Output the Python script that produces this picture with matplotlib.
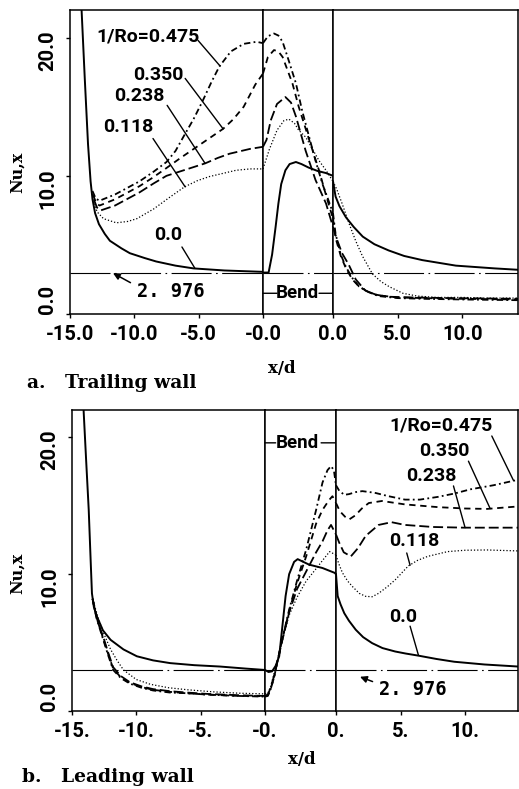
import matplotlib
matplotlib.use("Agg")
import matplotlib.pyplot as plt

# Nu,x along a rotating U-duct.
# straight legs are in x/d, the bend is in fraction of the bend (0 = inlet, 1 = outlet)
ro_labels = ["0.0", "0.118", "0.238", "0.350", "0.475"]
nu_ref = 2.976

# ---- a. trailing wall ----
# upstream leg
tu_x_0 = [-14.1, -13.85, -13.6, -13.4, -13.25, -13.05, -12.75, -12.3, -11.9, -11.0, -10.35, -9.2, -8.3, -6.8, -5.4, -3.0, 0.0]
tu_y_0 = [22.0, 17.0, 12.3, 9.6, 8.3, 7.3, 6.5, 5.8, 5.3, 4.75, 4.4, 4.05, 3.8, 3.5, 3.3, 3.15, 3.05]
tu_x_118 = [-13.1, -12.9, -12.4, -11.4, -10.5, -9.8, -8.5, -7.25, -6.1, -5.1, -4.15, -3.0, -2.1, -1.0, 0.0]
tu_y_118 = [8.0, 7.4, 6.9, 6.6, 6.7, 6.9, 7.6, 8.45, 9.2, 9.65, 9.95, 10.2, 10.4, 10.5, 10.5]
tu_x_238 = [-13.15, -12.9, -12.6, -11.5, -10.5, -9.6, -8.5, -7.5, -6.0, -4.5, -3.5, -2.6, -1.0, 0.0]
tu_y_238 = [8.3, 7.7, 7.5, 7.85, 8.35, 8.8, 9.45, 10.0, 10.45, 10.9, 11.3, 11.6, 11.95, 12.1]
tu_x_350 = [-13.2, -12.95, -12.7, -11.5, -10.5, -9.6, -8.6, -7.6, -6.4, -5.3, -4.2, -3.1, -2.3, -1.5, -0.6, 0.0]
tu_y_350 = [8.6, 8.0, 7.85, 8.3, 8.8, 9.25, 9.85, 10.5, 11.3, 12.0, 12.7, 13.4, 14.1, 15.0, 16.6, 17.4]
tu_x_475 = [-13.25, -13.0, -12.7, -11.5, -10.5, -9.6, -8.5, -7.5, -6.8, -6.2, -5.4, -4.7, -4.0, -3.4, -2.5, -1.5, -0.5, 0.0]
tu_y_475 = [8.9, 8.35, 8.2, 8.65, 9.15, 9.6, 10.3, 11.0, 11.8, 12.8, 14.1, 15.4, 16.8, 17.9, 19.0, 19.55, 19.7, 19.6]
# bend
tb_x_0 = [0, 0.08, 0.13, 0.18, 0.22, 0.26, 0.32, 0.38, 0.47, 0.55, 0.65, 0.78, 0.9, 1.0]
tb_y_0 = [3.0, 3.0, 4.3, 6.3, 8.0, 9.4, 10.4, 10.85, 11.0, 10.85, 10.6, 10.35, 10.2, 10.0]
tb_x_118 = [0, 0.09, 0.2, 0.3, 0.37, 0.45, 0.51, 0.61, 0.7, 0.8, 0.9, 1.0]
tb_y_118 = [10.5, 11.9, 13.3, 14.0, 14.1, 13.8, 13.3, 12.8, 12.0, 11.1, 10.4, 9.6]
tb_x_238 = [0, 0.05, 0.11, 0.2, 0.32, 0.4, 0.47, 0.61, 0.75, 0.9, 1.0]
tb_y_238 = [12.1, 12.6, 14.0, 15.2, 15.7, 15.3, 14.3, 11.8, 9.7, 8.0, 6.3]
tb_x_350 = [0, 0.07, 0.157, 0.22, 0.28, 0.42, 0.51, 0.66, 0.8, 0.9, 1.0]
tb_y_350 = [17.4, 18.6, 19.1, 19.0, 18.6, 16.7, 15.0, 12.6, 10.4, 8.6, 6.9]
tb_x_475 = [0, 0.07, 0.157, 0.22, 0.28, 0.37, 0.47, 0.56, 0.66, 0.75, 0.85, 0.93, 1.0]
tb_y_475 = [19.6, 20.1, 20.3, 20.15, 19.7, 18.3, 16.7, 14.7, 12.8, 11.1, 9.4, 8.3, 7.3]
# downstream leg
td_x_0 = [0, 0.2, 0.5, 1.0, 1.6, 2.3, 3.2, 4.3, 5.5, 6.9, 8.2, 9.5, 11.0, 12.5, 14.3]
td_y_0 = [9.6, 8.5, 7.8, 7.0, 6.3, 5.6, 5.05, 4.6, 4.2, 3.9, 3.7, 3.5, 3.4, 3.3, 3.2]
td_x_118 = [0, 0.3, 0.7, 1.24, 1.75, 2.27, 3.05, 3.7, 4.34, 5.4, 6.5, 8.0, 10.0, 12.0, 14.3]
td_y_118 = [9.6, 9.0, 8.0, 6.55, 5.3, 4.2, 2.9, 2.35, 1.98, 1.5, 1.3, 1.2, 1.2, 1.15, 1.15]
td_x_238 = [0, 0.3, 0.7, 1.2, 1.76, 2.5, 3.3, 4.3, 6.0, 9.0, 14.3]
td_y_238 = [6.3, 5.4, 4.4, 3.6, 2.5, 1.7, 1.4, 1.25, 1.2, 1.15, 1.1]
td_x_350 = [0, 0.2, 0.6, 1.0, 1.5, 2.0, 2.7, 3.5, 5.0, 7.0, 10.0, 14.3]
td_y_350 = [6.9, 5.5, 4.2, 3.3, 2.5, 2.0, 1.6, 1.35, 1.2, 1.15, 1.1, 1.05]
td_x_475 = [0, 0.2, 0.6, 1.0, 1.5, 2.0, 2.7, 3.5, 5.0, 7.0, 10.0, 14.3]
td_y_475 = [7.3, 5.8, 4.3, 3.4, 2.6, 2.0, 1.6, 1.3, 1.15, 1.1, 1.05, 1.0]

# ---- b. leading wall ----
lu_x_0 = [-14.1, -13.9, -13.7, -13.55, -13.45, -13.3, -13.06, -12.6, -12.0, -11.0, -9.96, -8.7, -7.37, -5.5, -3.5, -1.5, 0.0]
lu_y_0 = [22.0, 18.3, 14.7, 11.0, 8.6, 7.6, 6.9, 5.9, 5.2, 4.5, 4.0, 3.7, 3.5, 3.35, 3.25, 3.1, 3.0]
lu_x_118 = [-13.4, -13.0, -12.5, -12.0, -11.5, -11.0, -10.0, -8.9, -7.5, -6.0, -4.0, -2.0, 0.0]
lu_y_118 = [8.2, 6.9, 5.6, 4.5, 3.7, 3.0, 2.3, 1.95, 1.7, 1.55, 1.4, 1.3, 1.25]
lu_x_238 = [-13.4, -13.1, -12.8, -12.5, -12.2, -11.8, -11.2, -10.5, -9.6, -8.7, -7.4, -6.1, -4.5, -2.0, 0.0]
lu_y_238 = [8.2, 6.9, 6.0, 5.2, 4.3, 3.2, 2.55, 2.1, 1.8, 1.6, 1.45, 1.35, 1.25, 1.15, 1.1]
lu_x_350 = [-13.4, -13.1, -12.8, -12.5, -12.2, -11.8, -11.2, -10.5, -9.6, -8.7, -7.4, -6.1, -4.5, -2.0, 0.0]
lu_y_350 = [8.2, 6.85, 5.95, 5.1, 4.2, 3.1, 2.45, 2.05, 1.75, 1.55, 1.4, 1.3, 1.2, 1.1, 1.08]
lu_x_475 = [-13.4, -13.1, -12.8, -12.5, -12.2, -11.8, -11.2, -10.5, -9.6, -8.7, -7.4, -6.1, -4.5, -2.0, 0.0]
lu_y_475 = [8.2, 6.8, 5.9, 5.0, 4.1, 3.0, 2.4, 2.0, 1.7, 1.5, 1.35, 1.3, 1.2, 1.1, 1.05]
lb_x_0 = [0, 0.05, 0.1, 0.15, 0.2, 0.245, 0.29, 0.34, 0.41, 0.46, 0.54, 0.62, 0.81, 0.98, 1.0]
lb_y_0 = [3.0, 2.85, 2.9, 3.3, 4.0, 6.2, 8.4, 10.0, 10.9, 11.1, 10.9, 10.7, 10.45, 10.1, 10.0]
lb_x_118 = [0, 0.04, 0.08, 0.13, 0.17, 0.25, 0.34, 0.45, 0.58, 0.72, 0.81, 0.91, 1.0]
lb_y_118 = [1.25, 1.3, 1.8, 2.8, 3.6, 5.3, 7.0, 8.3, 9.5, 10.4, 11.0, 11.65, 11.4]
lb_x_238 = [0, 0.04, 0.08, 0.13, 0.17, 0.25, 0.34, 0.45, 0.58, 0.72, 0.81, 0.88, 0.93, 1.0]
lb_y_238 = [1.1, 1.2, 1.7, 2.6, 3.5, 5.3, 7.2, 8.9, 10.2, 11.6, 12.4, 13.2, 13.6, 12.9]
lb_x_350 = [0, 0.04, 0.08, 0.13, 0.17, 0.25, 0.34, 0.45, 0.58, 0.72, 0.81, 0.9, 0.95, 1.0]
lb_y_350 = [1.08, 1.15, 1.6, 2.5, 3.5, 5.4, 7.3, 9.3, 11.3, 13.7, 14.7, 15.4, 15.7, 15.2]
lb_x_475 = [0, 0.04, 0.08, 0.13, 0.17, 0.25, 0.34, 0.45, 0.58, 0.72, 0.81, 0.88, 0.93, 0.97, 1.0]
lb_y_475 = [1.05, 1.1, 1.6, 2.5, 3.5, 5.4, 7.4, 9.5, 11.8, 14.7, 16.7, 17.6, 17.9, 17.6, 16.5]
ld_x_0 = [0, 0.13, 0.35, 0.64, 1.0, 1.53, 2.1, 2.8, 3.6, 4.58, 5.4, 6.36, 7.8, 9.16, 11.5, 14.1]
ld_y_0 = [10.0, 8.4, 7.8, 7.15, 6.6, 5.94, 5.4, 4.96, 4.6, 4.35, 4.2, 4.05, 3.8, 3.6, 3.4, 3.25]
ld_x_118 = [0, 0.2, 0.5, 0.9, 1.27, 1.8, 2.3, 2.8, 3.3, 4.0, 4.6, 5.1, 5.6, 6.3, 7.1, 8.65, 10.0, 11.7, 14.1]
ld_y_118 = [11.4, 10.8, 10.1, 9.5, 9.1, 8.6, 8.38, 8.35, 8.6, 9.1, 9.6, 10.1, 10.6, 11.0, 11.3, 11.65, 11.75, 11.77, 11.7]
ld_x_238 = [0, 0.25, 0.6, 1.15, 1.7, 2.3, 3.3, 4.3, 5.34, 7.5, 9.9, 12.0, 14.1]
ld_y_238 = [12.9, 12.3, 11.6, 11.3, 11.9, 12.8, 13.6, 13.8, 13.6, 13.45, 13.4, 13.4, 13.4]
ld_x_350 = [0, 0.3, 0.7, 1.02, 1.5, 2.0, 2.54, 3.56, 5.34, 7.9, 10.0, 11.7, 14.1]
ld_y_350 = [15.2, 14.6, 14.2, 14.0, 14.3, 14.8, 15.2, 15.35, 15.1, 14.9, 14.8, 14.77, 14.95]
ld_x_475 = [0, 0.25, 0.64, 1.0, 1.53, 2.04, 3.0, 4.07, 5.34, 6.5, 7.9, 9.2, 10.4, 12.2, 14.1]
ld_y_475 = [16.5, 16.1, 15.8, 15.85, 16.0, 16.07, 15.95, 15.7, 15.45, 15.45, 15.65, 15.9, 16.2, 16.5, 16.9]

trail_up = [(tu_x_0, tu_y_0), (tu_x_118, tu_y_118), (tu_x_238, tu_y_238), (tu_x_350, tu_y_350), (tu_x_475, tu_y_475)]
trail_bend = [(tb_x_0, tb_y_0), (tb_x_118, tb_y_118), (tb_x_238, tb_y_238), (tb_x_350, tb_y_350), (tb_x_475, tb_y_475)]
trail_down = [(td_x_0, td_y_0), (td_x_118, td_y_118), (td_x_238, td_y_238), (td_x_350, td_y_350), (td_x_475, td_y_475)]
lead_up = [(lu_x_0, lu_y_0), (lu_x_118, lu_y_118), (lu_x_238, lu_y_238), (lu_x_350, lu_y_350), (lu_x_475, lu_y_475)]
lead_bend = [(lb_x_0, lb_y_0), (lb_x_118, lb_y_118), (lb_x_238, lb_y_238), (lb_x_350, lb_y_350), (lb_x_475, lb_y_475)]
lead_down = [(ld_x_0, ld_y_0), (ld_x_118, ld_y_118), (ld_x_238, ld_y_238), (ld_x_350, ld_y_350), (ld_x_475, ld_y_475)]

# ---- styling ----
W, H = 519, 789
plt.rcParams["font.family"] = ["Roboto", "DejaVu Sans"]
plt.rcParams["font.weight"] = "bold"
SERIF = "DejaVu Serif"
MONO = "DejaVu Sans Mono"
NUM = 14.5   # tick labels
LAB = 14     # curve labels

styles = [
    dict(ls="-", lw=1.4),
    dict(ls=(0, (1, 1.6)), lw=0.9),
    dict(ls=(0, (5.5, 2.2)), lw=1.3),
    dict(ls=(0, (3.5, 2.6)), lw=1.3),
    dict(ls=(0, (3.5, 1.8, 1, 1.8)), lw=1.3),
]

fig = plt.figure(figsize=(W / 100, H / 100), dpi=100)


def add_px_axes(x0, x1, y0, y1):
    return fig.add_axes([x0 / W, 1 - y1 / H, (x1 - x0) / W, (y1 - y0) / H])


def panel(box, xmax_down, segs, up_labels, down_labels):
    left, bend0, bend1, right, top, bottom = box
    ax_up = add_px_axes(left, bend0, top, bottom)
    ax_bd = add_px_axes(bend0, bend1, top, bottom)
    ax_dn = add_px_axes(bend1, right, top, bottom)
    for ax, lim, data in ((ax_up, (-15, 0), segs[0]), (ax_bd, (0, 1), segs[1]), (ax_dn, (0, xmax_down), segs[2])):
        ax.set_xlim(*lim)
        ax.set_ylim(0, 22)
        for s in ax.spines.values():
            s.set_linewidth(1.1)
        ax.axhline(nu_ref, color="black", lw=0.8, dashes=(36, 4, 1.5, 4))
        for (x, y), st in zip(data, styles):
            ax.plot(x, y, color="black", **st)
        ax.tick_params(direction="out", length=3, width=1, labelsize=NUM, pad=5)
    ax_up.set_xticks([-15, -10, -5, 0], up_labels)
    ax_up.set_yticks([0, 10, 20], ["0.0", "10.0", "20.0"])
    ax_up.tick_params(axis="y", labelrotation=90, pad=6)
    ax_up.get_yticklabels()[0].set_va("bottom")
    ax_bd.set_xticks([])
    ax_bd.set_yticks([])
    ax_dn.set_xticks([0, 5, 10], down_labels)
    ax_dn.set_yticks([])
    return ax_up, ax_bd, ax_dn


def leader(ax, text, pos, start, end):
    ax.text(pos[0], pos[1], text, ha="center", va="center", fontsize=LAB)
    ax.annotate("", xy=end, xytext=start, arrowprops=dict(arrowstyle="-", lw=1.0, color="black",
                                                          shrinkA=0, shrinkB=0))


def bend_mark(ax, y, xc, gap0, gap1):
    ax.text(xc, y, "Bend", ha="center", va="center", fontsize=13.5)
    for a, b in ((0, gap0), (gap1, 1)):
        ax.annotate("", xy=(a, y), xytext=(b, y),
                    arrowprops=dict(arrowstyle="-", lw=1.0, color="black", shrinkA=0, shrinkB=0))


def ref_arrow(ax, tip, txt_pos):
    ax.annotate("2. 976", xy=tip, xytext=txt_pos, ha="left", va="center", fontsize=13.5,
                family=MONO, fontweight="bold",
                arrowprops=dict(arrowstyle="-|>", lw=1.1, color="black", mutation_scale=10,
                                shrinkA=3, shrinkB=0, relpos=(0, 0.8)))


# a. trailing wall
t_up, t_bd, t_dn = panel((70, 263, 333, 518, 10, 314), 14.3, (trail_up, trail_bend, trail_down),
                         ["-15.0", "-10.0", "-5.0", "-0.0"], ["0.0", "5.0", "10.0"])
leader(t_up, "1/Ro=0.475", (-8.9, 20.1), (-5.05, 19.8), (-3.34, 17.95))
leader(t_up, "0.350", (-8.15, 17.3), (-6.05, 17.05), (-3.1, 13.4))
leader(t_up, "0.238", (-9.6, 15.8), (-7.45, 15.1), (-4.5, 10.9))
leader(t_up, "0.118", (-10.5, 13.55), (-8.55, 12.7), (-6.05, 9.2))
leader(t_up, "0.0", (-7.35, 5.7), (-6.3, 4.85), (-5.3, 3.32))
ref_arrow(t_up, (-11.66, 2.96), (-9.8, 1.6))
bend_mark(t_bd, 1.5, 0.49, 0.2, 0.8)

# b. leading wall
l_up, l_bd, l_dn = panel((72, 265, 336, 518, 410, 711), 14.1, (lead_up, lead_bend, lead_down),
                         ["-15.", "-10.", "-5.", "-0."], ["0.", "5.", "10."])
leader(l_dn, "1/Ro=0.475", (8.1, 20.85), (12.07, 20.1), (13.75, 16.85))
leader(l_dn, "0.350", (8.4, 19.0), (10.26, 18.26), (11.94, 14.8))
leader(l_dn, "0.238", (7.35, 17.2), (9.1, 16.45), (10.0, 13.4))
leader(l_dn, "0.118", (6.05, 12.4), (5.48, 11.55), (5.74, 10.65))
leader(l_dn, "0.0", (5.2, 6.9), (5.74, 6.2), (6.38, 4.1))
ref_arrow(l_dn, (1.86, 2.5), (3.35, 1.55))
bend_mark(l_bd, 19.6, 0.46, 0.15, 0.79)

# axis titles and captions
fig.text(17 / W, 1 - 172 / H, "Nu,x", rotation=90, ha="center", va="center", fontsize=11.5, family=SERIF)
fig.text(17 / W, 1 - 573 / H, "Nu,x", rotation=90, ha="center", va="center", fontsize=11.5, family=SERIF)
fig.text(282 / W, 1 - 368 / H, "x/d", ha="center", va="center", fontsize=12, family=SERIF)
fig.text(302 / W, 1 - 759 / H, "x/d", ha="center", va="center", fontsize=12, family=SERIF)
fig.text(27 / W, 1 - 383 / H, "a.   Trailing wall", ha="left", va="center", fontsize=13.5, family=SERIF)
fig.text(22 / W, 1 - 777 / H, "b.   Leading wall", ha="left", va="center", fontsize=13.5, family=SERIF)

fig.savefig("out.png", dpi=100)
